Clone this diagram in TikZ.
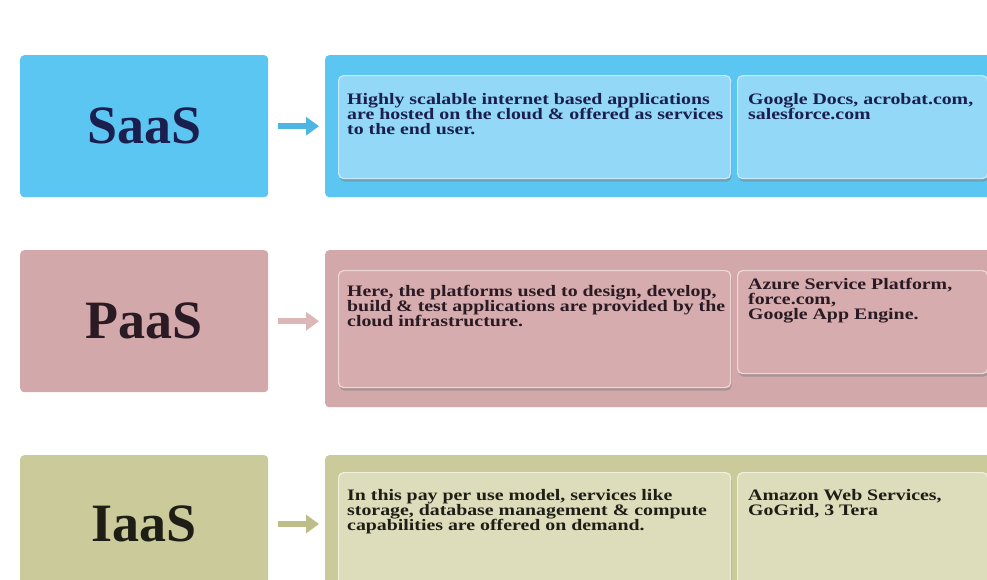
\documentclass[tikz,border=0pt]{standalone}
\usepackage{fontspec}
\setmainfont{Liberation Serif}
\newfontfamily\bodyfont[FakeStretch=1.24]{Liberation Serif}
\usetikzlibrary{arrows.meta,shadows}
\definecolor{sFill}{HTML}{5CC6F3}
\definecolor{sInner}{HTML}{93D8F6}
\definecolor{sLine}{HTML}{C4ECFB}
\definecolor{sArrow}{HTML}{4DB6E2}
\definecolor{sText}{HTML}{1B1F4F}
\definecolor{pFill}{HTML}{D3A8AA}
\definecolor{pInner}{HTML}{D6ACAE}
\definecolor{pLine}{HTML}{F0D8D8}
\definecolor{pArrow}{HTML}{DDB6B8}
\definecolor{pText}{HTML}{2A1A24}
\definecolor{iFill}{HTML}{CACA9A}
\definecolor{iInner}{HTML}{DDDDBC}
\definecolor{iLine}{HTML}{F0F0DC}
\definecolor{iArrow}{HTML}{BDBD8A}
\definecolor{iText}{HTML}{1E1E16}
\tikzset{
  leftbox/.style={anchor=north west, rounded corners=4pt, inner sep=0pt,
    minimum width=248pt, minimum height=142pt},
  contbox/.style={anchor=north west, rounded corners=4pt, inner sep=0pt,
    minimum width=680pt, minimum height=142pt},
  innerbox/.style={anchor=north west, rounded corners=5pt, inner sep=0pt,
    line width=1.2pt, drop shadow={shadow xshift=1pt, shadow yshift=-3pt, opacity=0.5}},
  bigtxt/.style={font=\fontsize{54}{54}\selectfont\bfseries},
  bodytxt/.style={anchor=north west, inner sep=0pt, align=left,
    font=\bodyfont\fontsize{16}{15.2}\selectfont\bfseries},
  flow/.style={line width=6pt, -{Triangle[length=13pt,width=18pt]}, shorten >=6pt, shorten <=10pt}
}
\begin{document}
\begin{tikzpicture}[x=1pt,y=-1pt]
\useasboundingbox (0,0) rectangle (987,579);
\clip (0,0) rectangle (987,579);
\fill[white] (0,0) rectangle (987,579);
% ---------- SaaS ----------
\node[leftbox, fill=sFill] (saas) at (20,55) {};
\node[bigtxt, text=sText] (saasT) at (saas.center) {SaaS};
\node[contbox, fill=sFill] (saasC) at (325,55) {};
\node[innerbox, fill=sInner, draw=sLine, minimum width=392pt, minimum height=103pt] (saasA) at (338,75) {};
\node[innerbox, fill=sInner, draw=sLine, minimum width=250pt, minimum height=103pt] (saasB) at (737,75) {};
\node[bodytxt, text=sText] (saasAT) at (347,93) {Highly scalable internet based applications\\are hosted on the cloud \& offered as services\\to the end user.};
\node[bodytxt, text=sText] (saasBT) at (748,93) {Google Docs, acrobat.com,\\salesforce.com};
\draw[flow, sArrow] (saas.east) -- (saasC.west);
% ---------- PaaS ----------
\node[leftbox, fill=pFill] (paas) at (20,250) {};
\node[bigtxt, text=pText] (paasT) at (paas.center) {PaaS};
\node[contbox, fill=pFill, minimum height=157pt] (paasC) at (325,250) {};
\node[innerbox, fill=pInner, draw=pLine, minimum width=392pt, minimum height=117pt] (paasA) at (338,270) {};
\node[innerbox, fill=pInner, draw=pLine, minimum width=250pt, minimum height=103pt] (paasB) at (737,270) {};
\node[bodytxt, text=pText] (paasAT) at (347,285) {Here, the platforms used to design, develop,\\build \& test applications are provided by the\\cloud infrastructure.};
\node[bodytxt, text=pText] (paasBT) at (748,278) {Azure Service Platform,\\force.com,\\Google App Engine.};
\draw[flow, pArrow] (paas.east) -- (paas.east -| paasC.west);
% ---------- IaaS ----------
\node[leftbox, fill=iFill, minimum height=160pt] (iaas) at (20,455) {};
\node[bigtxt, text=iText] (iaasT) at (144,524) {IaaS};
\node[contbox, fill=iFill, minimum height=160pt] (iaasC) at (325,455) {};
\node[innerbox, fill=iInner, draw=iLine, minimum width=392pt, minimum height=120pt] (iaasA) at (338,472) {};
\node[innerbox, fill=iInner, draw=iLine, minimum width=250pt, minimum height=120pt] (iaasB) at (737,472) {};
\node[bodytxt, text=iText] (iaasAT) at (347,489) {In this pay per use model, services like\\storage, database management \& compute\\capabilities are offered on demand.};
\node[bodytxt, text=iText] (iaasBT) at (748,489) {Amazon Web Services,\\GoGrid, 3 Tera};
\coordinate (iaasArr) at (268,524);
\draw[flow, iArrow] (iaasArr) -- (iaasArr -| iaasC.west);
\end{tikzpicture}
\end{document}
